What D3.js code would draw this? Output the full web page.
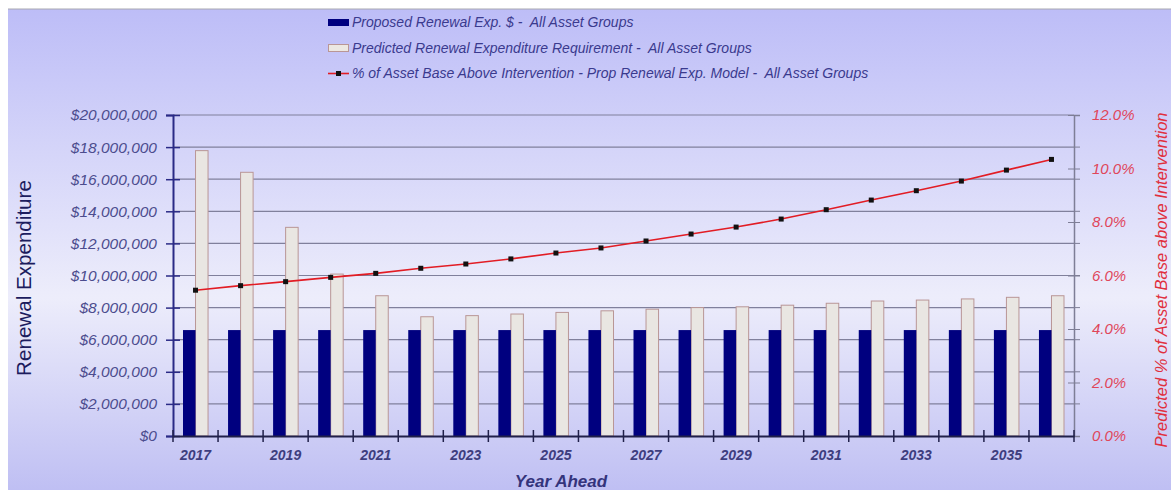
<!DOCTYPE html>
<html>
<head>
<meta charset="utf-8">
<script src="https://cdn.jsdelivr.net/npm/d3@7"></script>
<style>
  body { margin: 0; background: #fff; }
  text { font-family: "Liberation Sans", Arial, sans-serif; }
</style>
</head>
<body>
<main></main>
<script>
// Datos
const years = d3.range(2017, 2037).map(String);
const yearLabels = ['2017', '2019', '2021', '2023', '2025', '2027', '2029', '2031', '2033', '2035'];
const proposed = [6600000, 6600000, 6600000, 6600000, 6600000, 6600000, 6600000, 6600000, 6600000, 6600000,
                  6600000, 6600000, 6600000, 6600000, 6600000, 6600000, 6600000, 6600000, 6600000, 6600000];
const predicted = [17780000, 16430000, 13000000, 10090000, 8740000, 7430000, 7500000, 7600000, 7700000, 7800000,
                   7900000, 8000000, 8050000, 8150000, 8270000, 8410000, 8470000, 8540000, 8640000, 8740000];
const pctAbove = [5.45, 5.62, 5.77, 5.93, 6.08, 6.27, 6.43, 6.62, 6.84, 7.03,
                  7.29, 7.55, 7.81, 8.11, 8.46, 8.82, 9.17, 9.53, 9.94, 10.34];
const leftTicks = d3.range(0, 20000001, 2000000);
const rightTicks = [0, 2, 4, 6, 8, 10, 12];
const legendItems = [
  'Proposed Renewal Exp. $ -  All Asset Groups',
  'Predicted Renewal Expenditure Requirement -  All Asset Groups',
  '% of Asset Base Above Intervention - Prop Renewal Exp. Model -  All Asset Groups'
];

const w = 1171, h = 490;
const m = { left: 173, right: 1074, top: 115, bottom: 436 };

const svg = d3.select('main').append('svg')
  .attr('width', w).attr('height', h);

// Fondo degradado
const defs = svg.append('defs');
const grad = defs.append('linearGradient').attr('id', 'bg')
  .attr('x1', 0).attr('y1', 0).attr('x2', 0).attr('y2', 1);
grad.append('stop').attr('offset', '0%').attr('stop-color', '#bdbdf7');
grad.append('stop').attr('offset', '60%').attr('stop-color', '#ededfb');
grad.append('stop').attr('offset', '100%').attr('stop-color', '#bfbff3');

svg.append('rect').attr('x', 8).attr('y', 9).attr('width', w - 8).attr('height', h - 9)
  .attr('fill', 'url(#bg)');
svg.append('line').attr('x1', 8).attr('x2', w).attr('y1', 9).attr('y2', 9)
  .attr('stroke', '#a8a8b0').attr('stroke-width', 1);

// Escalas
const x = d3.scaleBand().domain(years).range([m.left, m.right]).paddingInner(0.444).paddingOuter(0.222);
const xStep = d3.scaleBand().domain(years).range([m.left, m.right]);
const xSub = d3.scaleBand().domain(['p', 'r']).range([0, x.bandwidth()]);
const y = d3.scaleLinear().domain([0, 20000000]).range([m.bottom, m.top]);
const y2 = d3.scaleLinear().domain([0, 12]).range([m.bottom, m.top]);

// Rejilla
svg.append('g').selectAll('line').data(leftTicks.slice(1)).join('line')
  .attr('x1', m.left).attr('x2', m.right)
  .attr('y1', d => y(d)).attr('y2', d => y(d))
  .attr('stroke', '#80809c').attr('stroke-width', 1.2);

// Barras
const groups = svg.append('g').selectAll('g').data(years).join('g')
  .attr('transform', d => `translate(${x(d)},0)`);
groups.append('rect')
  .attr('x', xSub('r')).attr('width', xSub.bandwidth())
  .attr('y', (d, i) => y(predicted[i])).attr('height', (d, i) => m.bottom - y(predicted[i]))
  .attr('fill', '#e9e6e2').attr('stroke', '#b99696').attr('stroke-width', 1);
groups.append('rect')
  .attr('x', xSub('p')).attr('width', xSub.bandwidth())
  .attr('y', (d, i) => y(proposed[i])).attr('height', (d, i) => m.bottom - y(proposed[i]))
  .attr('fill', '#00007f');

// Linea
const cx = d => xStep(d) + xStep.bandwidth() / 2;
svg.append('path').datum(years)
  .attr('d', d3.line().x(cx).y((d, i) => y2(pctAbove[i])))
  .attr('fill', 'none').attr('stroke', '#e21c24').attr('stroke-width', 1.6);
svg.append('g').selectAll('rect').data(years).join('rect')
  .attr('x', d => cx(d) - 2.5).attr('y', (d, i) => y2(pctAbove[i]) - 2.5)
  .attr('width', 5).attr('height', 5).attr('fill', '#111');

// Eje izquierdo
const axL = svg.append('g').attr('transform', `translate(${m.left},0)`)
  .call(d3.axisLeft(y).tickValues(leftTicks).tickSize(7).tickPadding(9)
    .tickFormat(d => d === 0 ? '$0' : d3.format('$,')(d)));
axL.select('.domain').attr('stroke', '#2a2a86').attr('stroke-width', 2);
axL.selectAll('.tick line').attr('x2', 7).attr('x1', -7).attr('stroke', '#2a2a86').attr('stroke-width', 1.5);
axL.selectAll('.tick text').attr('x', -16).attr('fill', '#4c4c8e')
  .style('font-size', '15.5px').style('font-style', 'italic');

// Eje derecho
const axR = svg.append('g').attr('transform', `translate(${m.right},0)`)
  .call(d3.axisRight(y2).tickValues(rightTicks).tickSize(6).tickPadding(12)
    .tickFormat(d => d.toFixed(1) + '%'));
axR.select('.domain').attr('stroke', '#7e7e96').attr('stroke-width', 1.5);
axR.selectAll('.tick line').attr('x1', -6).attr('stroke', '#7e7e96');
axR.selectAll('.tick text').attr('fill', '#e0465a')
  .style('font-size', '15px').style('font-style', 'italic');
svg.append('g').selectAll('line').data(leftTicks.slice(1, -1)).join('line')
  .attr('x1', m.right).attr('x2', m.right + 6)
  .attr('y1', d => y(d)).attr('y2', d => y(d))
  .attr('stroke', '#7e7e96');

// Eje inferior
const axB = svg.append('g').attr('transform', `translate(0,${m.bottom})`)
  .call(d3.axisBottom(xStep).tickValues(yearLabels).tickSize(0).tickPadding(14));
axB.select('.domain').attr('stroke', '#20204a').attr('stroke-width', 2);
axB.selectAll('.tick text').attr('fill', '#3d3d7e')
  .style('font-size', '14px').style('font-style', 'italic').style('font-weight', 'bold');
svg.append('g').selectAll('line').data(years).join('line')
  .attr('x1', d => xStep(d)).attr('x2', d => xStep(d))
  .attr('y1', m.bottom - 6).attr('y2', m.bottom + 6)
  .attr('stroke', '#20204a').attr('stroke-width', 1.5);
svg.append('line').attr('x1', m.right).attr('x2', m.right)
  .attr('y1', m.bottom - 6).attr('y2', m.bottom + 6)
  .attr('stroke', '#20204a').attr('stroke-width', 1.5);

// Titulos
svg.append('text').attr('x', 561).attr('y', 487).attr('text-anchor', 'middle')
  .attr('fill', '#34347c').style('font-size', '17px').style('font-weight', 'bold').style('font-style', 'italic')
  .text('Year Ahead');
svg.append('text').attr('transform', 'translate(31,278) rotate(-90) scale(1.03,1.0)').attr('text-anchor', 'middle')
  .attr('fill', '#1c1c5e').style('font-size', '20px')
  .text('Renewal Expenditure');
svg.append('text').attr('transform', 'translate(1167,280) rotate(-90)').attr('text-anchor', 'middle')
  .attr('fill', '#e0303e').style('font-size', '16.5px').style('font-style', 'italic')
  .text('Predicted % of Asset Base above Intervention');

// Leyenda
const leg = svg.append('g').selectAll('g').data(legendItems).join('g')
  .attr('transform', (d, i) => `translate(328,${22 + i * 25.5})`);
leg.filter((d, i) => i === 0).append('rect')
  .attr('x', 0).attr('y', -3).attr('width', 21).attr('height', 7).attr('fill', '#00007f');
leg.filter((d, i) => i === 1).append('rect')
  .attr('x', 0.5).attr('y', -3).attr('width', 20).attr('height', 7)
  .attr('fill', '#ece8e2').attr('stroke', '#b99696');
leg.filter((d, i) => i === 2).append('line')
  .attr('x1', 0).attr('x2', 21).attr('y1', 0.5).attr('y2', 0.5)
  .attr('stroke', '#e21c24').attr('stroke-width', 1.6);
leg.filter((d, i) => i === 2).append('rect')
  .attr('x', 8).attr('y', -2).attr('width', 5).attr('height', 5).attr('fill', '#111');
leg.append('text').attr('x', 24).attr('y', 5)
  .attr('fill', '#3a3a8e').style('font-size', '14px').style('font-style', 'italic')
  .style('white-space', 'pre')
  .text(d => d);
</script>
</body>
</html>
